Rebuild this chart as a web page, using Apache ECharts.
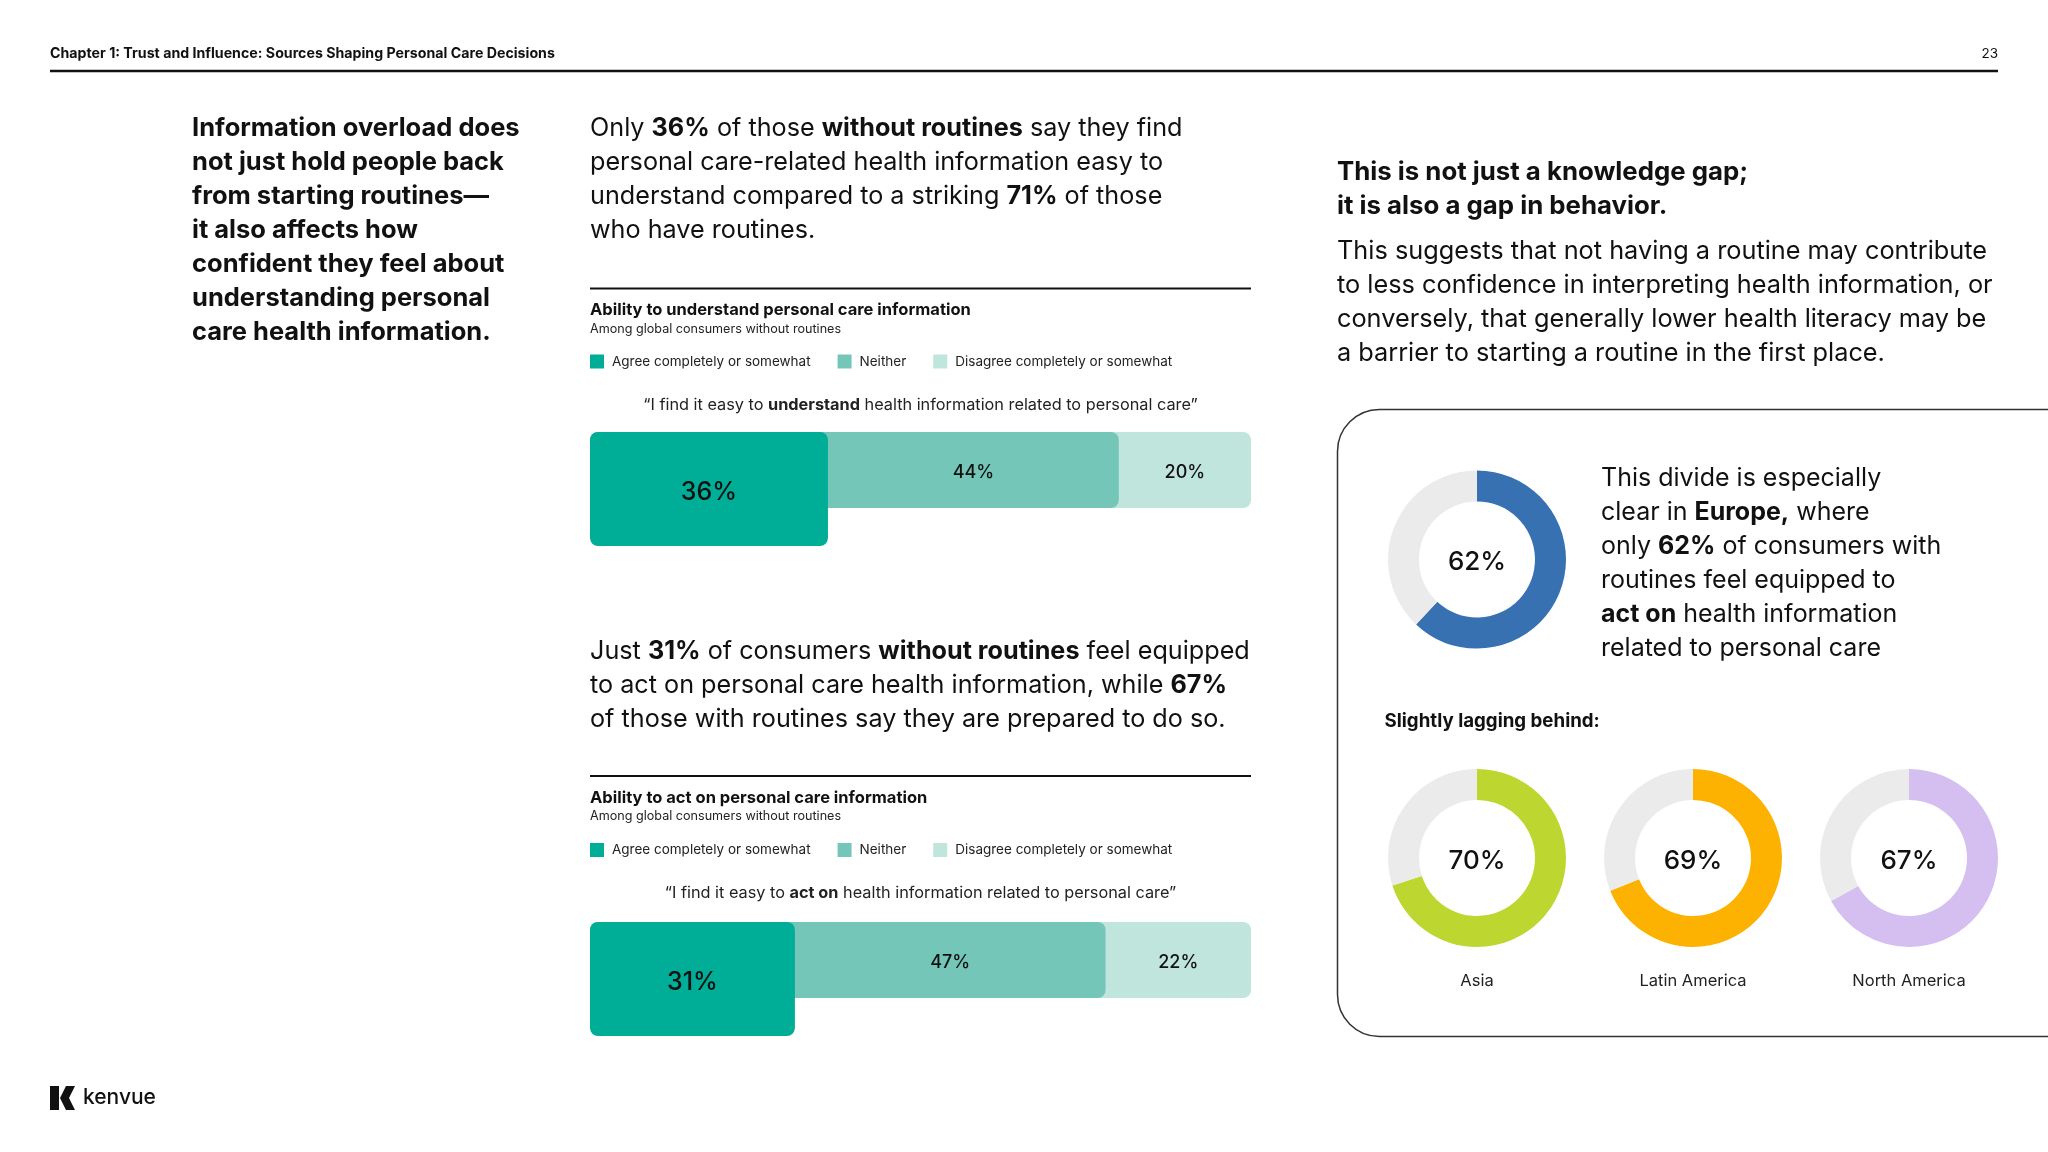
<!DOCTYPE html>
<html><head><meta charset="utf-8">
<script src="https://cdn.jsdelivr.net/npm/echarts@6/dist/echarts.min.js"></script>
<style>html,body{margin:0;padding:0;background:#fff}#c{width:2048px;height:1152px}</style>
</head><body><div id="c"></div>
<script>
// ---------- DATA ----------
const legendNames = ['Agree completely or somewhat', 'Neither', 'Disagree completely or somewhat'];
const understandValues = [36, 44, 20];
const actOnValues = [31, 47, 22];
const regionNames = ['Europe', 'Asia', 'Latin America', 'North America'];
const regionValues = [62, 70, 69, 67];

const headerTitle = 'Chapter 1: Trust and Influence: Sources Shaping Personal Care Decisions';
const pageNumber = '23';
const leftHeading = ['Information overload does', 'not just hold people back', 'from starting routines\u2014', 'it also affects how', 'confident they feel about', 'understanding personal', 'care health information.'];
const para1 = ['Only **36%** of those **without routines** say they find', 'personal care-related health information easy to', 'understand compared to a striking **71%** of those', 'who have routines.'];
const para2 = ['Just **31%** of consumers **without routines** feel equipped', 'to act on personal care health information, while **67%**', 'of those with routines say they are prepared to do so.'];
const chartTitles = ['Ability to understand personal care information', 'Ability to act on personal care information'];
const chartSubtitle = 'Among global consumers without routines';
const quotes = ['\u201CI find it easy to **understand** health information related to personal care\u201D', '\u201CI find it easy to **act on** health information related to personal care\u201D'];
const rightHeading = ['This is not just a knowledge gap;', 'it is also a gap in behavior.'];
const rightPara = ['This suggests that not having a routine may contribute', 'to less confidence in interpreting health information, or', 'conversely, that generally lower health literacy may be', 'a barrier to starting a routine in the first place.'];
const europeText = ['This divide is especially', 'clear in **Europe,** where', 'only **62%** of consumers with', 'routines feel equipped to', '**act on** health information', 'related to personal care'];
const laggingTitle = 'Slightly lagging behind:';

// ---------- STYLE ----------
const FONT = 'Inter, Roboto, "Noto Sans", sans-serif';
const TXT = '#111111';
const barColors = ['#00ad97', '#74c6b8', '#bfe5dc'];
const regionColors = ['#3771b2', '#bdd630', '#fdb201', '#d4bff0'];
const restColor = '#ebebeb';

function rich(str) {
  const parts = str.split('**');
  let out = '';
  parts.forEach((p, i) => { if (p.length) out += '{' + (i % 2 ? 'b' : 'r') + '|' + p + '}'; });
  return out;
}
function textEl(x, y, str, size, opts) {
  opts = opts || {};
  const w = opts.weight || 'normal';
  return {
    type: 'text', x: x, y: y, silent: true, z: opts.z || 0,
    style: {
      text: rich(str), textAlign: opts.align || 'left', textVerticalAlign: 'middle',
      rich: {
        r: { fontFamily: FONT, fontSize: size, fontWeight: w, fill: opts.color || TXT },
        b: { fontFamily: FONT, fontSize: size, fontWeight: 'bold', fill: opts.color || TXT }
      }
    }
  };
}
function lines(x, y0, lh, arr, size, opts) {
  return arr.map((s, i) => textEl(x, y0 + i * lh, s, size, opts));
}

const graphics = [];
graphics.push(textEl(50, 54, headerTitle, 14.2, { weight: 'bold' }));
graphics.push(textEl(1998, 54, pageNumber, 13.5, { align: 'right' }));
graphics.push({ type: 'line', silent: true, shape: { x1: 50, y1: 71, x2: 1998, y2: 71 }, style: { stroke: '#111', lineWidth: 2.5 } });
graphics.push(...lines(192, 128.5, 34, leftHeading, 25.5, { weight: 'bold' }));
graphics.push(...lines(590, 128.5, 34, para1, 25.2));
graphics.push(...lines(590, 651, 34, para2, 25.2));
// chart headers
const chartTops = [288.5, 776];
chartTops.forEach((t, k) => {
  graphics.push({ type: 'line', silent: true, shape: { x1: 590, y1: t, x2: 1251, y2: t }, style: { stroke: '#111', lineWidth: 2 } });
  graphics.push(textEl(590, t + 22, chartTitles[k], 16.5, { weight: 'bold' }));
  graphics.push(textEl(590, t + 40.5, chartSubtitle, 12.6, { color: '#222' }));
  graphics.push(textEl(920.5, t + 117, quotes[k], 16.3, { align: 'center', color: '#222' }));
});
graphics.push(...lines(1337, 172.5, 34, rightHeading, 25.8, { weight: 'bold' }));
graphics.push(...lines(1337, 251, 34, rightPara, 25.3));
graphics.push({ type: 'rect', silent: true, shape: { x: 1337.5, y: 409.5, width: 900, height: 627, r: 42 }, style: { fill: 'none', stroke: '#333', lineWidth: 1.5 } });
graphics.push(...lines(1601, 478.5, 34, europeText, 25));
graphics.push(textEl(1384.5, 721, laggingTitle, 18.7, { weight: 'bold' }));
const donutCenters = [[1477, 559.5], [1477, 858], [1693, 858], [1909, 858]];
for (let i = 1; i < regionNames.length; i++) {
  graphics.push(textEl(donutCenters[i][0], 981, regionNames[i], 16.5, { align: 'center', color: '#222' }));
}
// logo
graphics.push({ type: 'rect', silent: true, shape: { x: 50, y: 1086, width: 9, height: 24 }, style: { fill: '#111' } });
graphics.push({ type: 'polygon', silent: true, shape: { points: [[60, 1098], [66, 1086], [75, 1086], [69, 1098], [75, 1110], [66, 1110]] }, style: { fill: '#111' } });
graphics.push(textEl(83, 1098, 'kenvue', 21, { weight: '500' }));

// ---------- BARS ----------
const barSets = [understandValues, actOnValues];
const barTops = [432, 922];
const grids = [], xAxes = [], yAxes = [], series = [];
barSets.forEach((vals, k) => {
  const cum = vals.map((v, i) => vals.slice(0, i + 1).reduce((a, b) => a + b, 0));
  const gUp = grids.length;
  grids.push({ left: 590, top: barTops[k], width: 661, height: 76 });
  grids.push({ left: 590, top: barTops[k], width: 661, height: 114 });
  [gUp, gUp + 1].forEach(g => {
    xAxes.push({ type: 'value', gridIndex: g, min: 0, max: 100, show: false });
    yAxes.push({ type: 'category', gridIndex: g, data: ['q'], show: false });
  });
  const common = { type: 'bar', xAxisIndex: gUp, yAxisIndex: gUp, barWidth: '100%', barGap: '-100%', silent: true, animation: false };
  series.push(Object.assign({}, common, { name: legendNames[2], data: [cum[2]], itemStyle: { color: barColors[2], borderRadius: 8 }, z: 2 }));
  series.push(Object.assign({}, common, { name: legendNames[1], data: [cum[1]], itemStyle: { color: barColors[1], borderRadius: 8 }, z: 3 }));
  vals.forEach((v, i) => {
    series.push(Object.assign({}, common, {
      name: 'lab' + k + i, stack: 'lab' + k, data: [v], z: 4,
      itemStyle: { color: 'rgba(0,0,0,0)' },
      label: { show: i > 0, position: 'inside', offset: [0, 3], formatter: '{c}%', fontFamily: FONT, fontSize: 18, fontWeight: 500, color: TXT }
    }));
  });
  series.push({
    type: 'bar', name: legendNames[0], xAxisIndex: gUp + 1, yAxisIndex: gUp + 1, barWidth: '100%', silent: true, animation: false, z: 5,
    data: [vals[0]], itemStyle: { color: barColors[0], borderRadius: 8 },
    label: { show: true, position: 'inside', offset: [0, 3], formatter: '{c}%', fontFamily: FONT, fontSize: 25, fontWeight: 500, color: TXT }
  });
});

// ---------- DONUTS ----------
regionValues.forEach((v, i) => {
  series.push({
    type: 'pie', name: regionNames[i], center: donutCenters[i], radius: [58, 89], startAngle: 90, clockwise: true,
    silent: true, animation: false, label: { show: false }, labelLine: { show: false },
    data: [
      { name: regionNames[i], value: v, itemStyle: { color: regionColors[i] } },
      { name: 'rest', value: 100 - v, itemStyle: { color: restColor } }
    ]
  });
  graphics.push(textEl(donutCenters[i][0], donutCenters[i][1] + 3, v + '%', 26, { align: 'center', weight: '500', z: 10 }));
});

const legendCommon = {
  left: 590, padding: 0, data: legendNames, icon: 'rect', itemWidth: 14, itemHeight: 14, itemGap: 27, selectedMode: false,
  textStyle: { fontFamily: FONT, fontSize: 13.5, color: '#222', padding: [0, 0, 0, 3] }
};
const option = {
  backgroundColor: '#fff',
  animation: false,
  legend: [Object.assign({ top: 354.5 }, legendCommon), Object.assign({ top: 843 }, legendCommon)],
  grid: grids, xAxis: xAxes, yAxis: yAxes, series: series,
  graphic: graphics
};
const chart = echarts.init(document.getElementById('c'), null, { renderer: 'canvas' });
chart.setOption(option);
</script></body></html>
